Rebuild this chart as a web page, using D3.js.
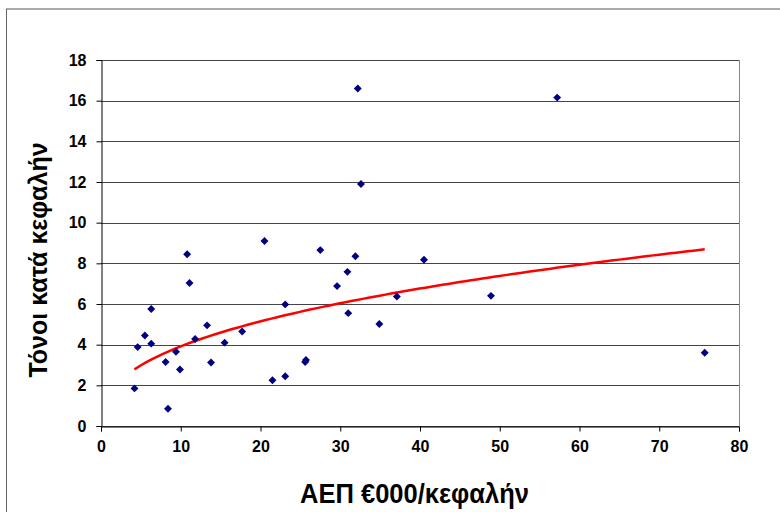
<!DOCTYPE html>
<html>
<head>
<meta charset="utf-8">
<script src="https://cdn.jsdelivr.net/npm/d3@7"></script>
<style>
  body { margin: 0; background: #fff; }
  svg { display: block; }
</style>
</head>
<body>
<div id="chart"></div>
<script>
// GDP per head (thousand euro) vs tonnes per head
let gdp = [4.2, 4.6, 5.5, 6.3, 6.3, 8.1, 8.4, 9.4, 9.9, 10.8, 11.1, 11.8, 13.3, 13.8, 15.5,
  17.7, 20.5, 21.5, 23.1, 23.1, 25.6, 25.7, 27.5, 29.6, 30.9, 31.0, 31.9, 32.2, 32.6, 34.9,
  37.1, 40.5, 48.9, 57.2, 75.7];
let tonnes = [1.85, 3.88, 4.45, 5.75, 4.05, 3.15, 0.85, 3.65, 2.78, 8.45, 7.03, 4.28, 4.95, 3.12, 4.1,
  4.65, 9.1, 2.25, 5.98, 2.45, 3.15, 3.25, 8.65, 6.88, 7.58, 5.55, 8.35, 16.6, 11.9, 5.02,
  6.37, 8.18, 6.4, 16.15, 3.6];

let xTicks = [0, 10, 20, 30, 40, 50, 60, 70, 80];
let yTicks = [0, 2, 4, 6, 8, 10, 12, 14, 16, 18];

let xTitle = "ΑΕΠ €000/κεφαλήν";
let yTitle = "Τόνοι κατά κεφαλήν";

let width = 780, height = 512;
let plot = { left: 101, right: 739, top: 60, bottom: 426 };
let fontFamily = "'Liberation Sans', Arial, sans-serif";

let svg = d3.select("#chart").append("svg")
  .attr("width", width)
  .attr("height", height);

// outer chart frame
svg.append("line")
  .attr("x1", 6).attr("y1", 9).attr("x2", width).attr("y2", 9)
  .attr("stroke", "#aaa").attr("stroke-width", 2);
svg.append("line")
  .attr("x1", 6.5).attr("y1", 9).attr("x2", 6.5).attr("y2", height)
  .attr("stroke", "#666").attr("stroke-width", 1);

let x = d3.scaleLinear().domain([0, 80]).range([plot.left, plot.right]);
let y = d3.scaleLinear().domain([0, 18]).range([plot.bottom, plot.top]);

// horizontal gridlines
svg.append("g")
  .selectAll("line")
  .data(yTicks)
  .enter().append("line")
  .attr("x1", plot.left).attr("x2", plot.right)
  .attr("y1", d => Math.round(y(d)) + 0.5).attr("y2", d => Math.round(y(d)) + 0.5)
  .attr("stroke", "#444");

// right border of the plot area
svg.append("line")
  .attr("x1", plot.right + 0.5).attr("x2", plot.right + 0.5)
  .attr("y1", plot.top).attr("y2", plot.bottom)
  .attr("stroke", "#888");

let xAxis = svg.append("g")
  .attr("transform", "translate(0," + (plot.bottom + 0.5) + ")")
  .call(d3.axisBottom(x).tickValues(xTicks).tickSize(5).tickPadding(9).tickFormat(d3.format("d")));
let yAxis = svg.append("g")
  .attr("transform", "translate(" + (plot.left + 0.5) + ",0)")
  .call(d3.axisLeft(y).tickValues(yTicks).tickSize(5).tickPadding(10).tickFormat(d3.format("d")));

[xAxis, yAxis].forEach(function(ax) {
  ax.select(".domain").attr("stroke", "#000");
  ax.selectAll(".tick line").attr("stroke", "#000");
  ax.selectAll(".tick text")
    .attr("fill", "#000")
    .style("font-family", fontFamily)
    .style("font-size", "16px")
    .style("font-weight", "700");
});

// power trendline fitted on logs, like a spreadsheet power trend
let lx = gdp.map(Math.log), ly = tonnes.map(Math.log);
let mx = d3.mean(lx), my = d3.mean(ly);
let b = d3.sum(lx.map((v, i) => (v - mx) * (ly[i] - my))) / d3.sum(lx.map(v => (v - mx) * (v - mx)));
let a = Math.exp(my - b * mx);
let xs = d3.range(0, 101).map(i => d3.min(gdp) + (d3.max(gdp) - d3.min(gdp)) * i / 100);

svg.append("path")
  .datum(xs)
  .attr("d", d3.line().x(d => x(d)).y(d => y(a * Math.pow(d, b))))
  .attr("fill", "none")
  .attr("stroke", "#ff0000")
  .attr("stroke-width", 2.5);

// diamond markers
let diamond = d3.symbol().type(d3.symbolDiamond2).size(40);
svg.append("g")
  .selectAll("path")
  .data(gdp)
  .enter().append("path")
  .attr("d", diamond)
  .attr("transform", (d, i) => "translate(" + x(d) + "," + y(tonnes[i]) + ")")
  .attr("fill", "#000080");

svg.append("text")
  .attr("x", 414.5)
  .attr("y", 503)
  .attr("text-anchor", "middle")
  .attr("font-family", fontFamily)
  .attr("font-weight", "bold")
  .attr("font-size", 27)
  .attr("textLength", 229)
  .attr("lengthAdjust", "spacingAndGlyphs")
  .text(xTitle);

svg.append("text")
  .attr("transform", "translate(47,260) rotate(-90)")
  .attr("text-anchor", "middle")
  .attr("font-family", fontFamily)
  .attr("font-weight", "bold")
  .attr("font-size", 25)
  .text(yTitle);
</script>
</body>
</html>
